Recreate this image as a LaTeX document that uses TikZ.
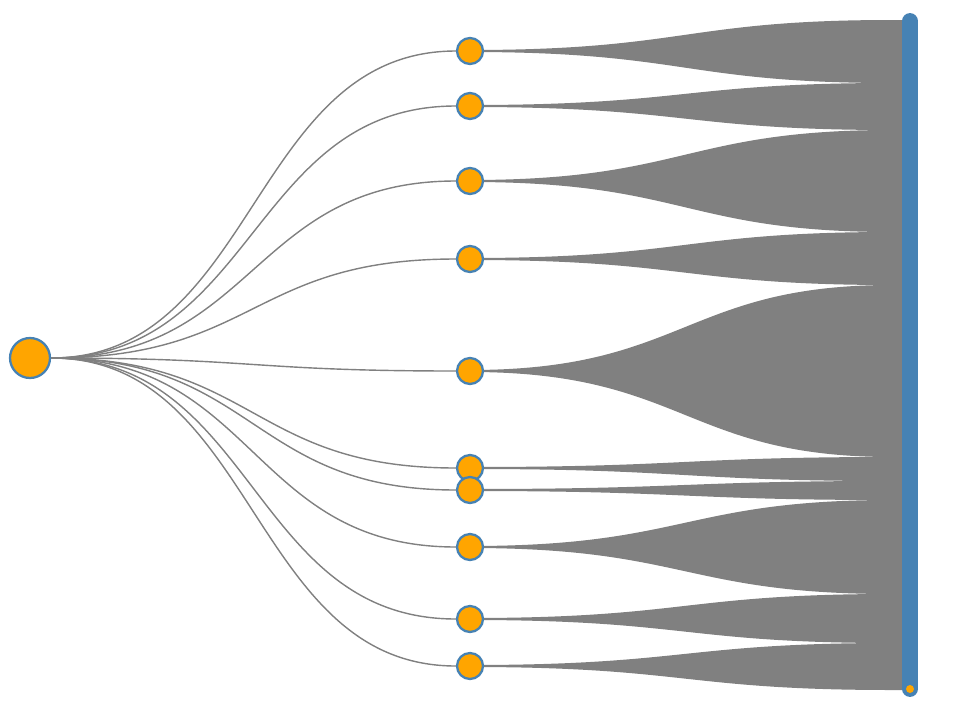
\documentclass[tikz,border=0pt]{standalone}
\usepackage{xcolor}
\usepackage{tikz}

\definecolor{leaf}{HTML}{FFA500}
\definecolor{rim}{HTML}{4682B4}
\definecolor{link}{HTML}{808080}

\begin{document}
\begin{tikzpicture}[x=0.02cm, y=-0.02cm,
    dot/.style={circle, fill=leaf, draw=rim, line width=1.3pt, inner sep=0pt, minimum size=#1},
    wire/.style={draw=link, line width=0.8pt}]
    \useasboundingbox (0,0) rectangle (960,700);

    % Fans toward the bar
    \foreach \i/\y/\t/\b in {1/51/20/83, 2/106/83/130, 3/181/130/232, 4/259/232/285,
                             5/371/285/457, 6/468/457/481, 7/490/481/500,
                             8/547/500/594, 9/619/594/643, 10/666/643/690} {
        \coordinate (p\i) at (470,\y);
        \fill[link] ([yshift=0.02cm]p\i) .. controls (685,\y-1) and (685,\t) .. (892,\t) -- (906,\t)
            -- (906,\b) -- (892,\b) .. controls (685,\b) and (685,\y+1) .. ([yshift=-0.02cm]p\i) -- cycle;
    }

    % Bar
    \draw[rim, line width=9pt, line cap=round] (910,21) -- (910,689);
    \node[dot=0.16cm, draw=none] (tip) at (910,689) {};

    % Root and middle nodes
    \node[dot=0.8cm] (root) at (30,358) {};
    \foreach \i in {1,...,10} {
        \node[dot=0.52cm] (n\i) at (p\i) {};
        \draw[wire] (root.east) .. controls +(205,0) and +(-205,0) .. (n\i.west);
    }
\end{tikzpicture}
\end{document}
